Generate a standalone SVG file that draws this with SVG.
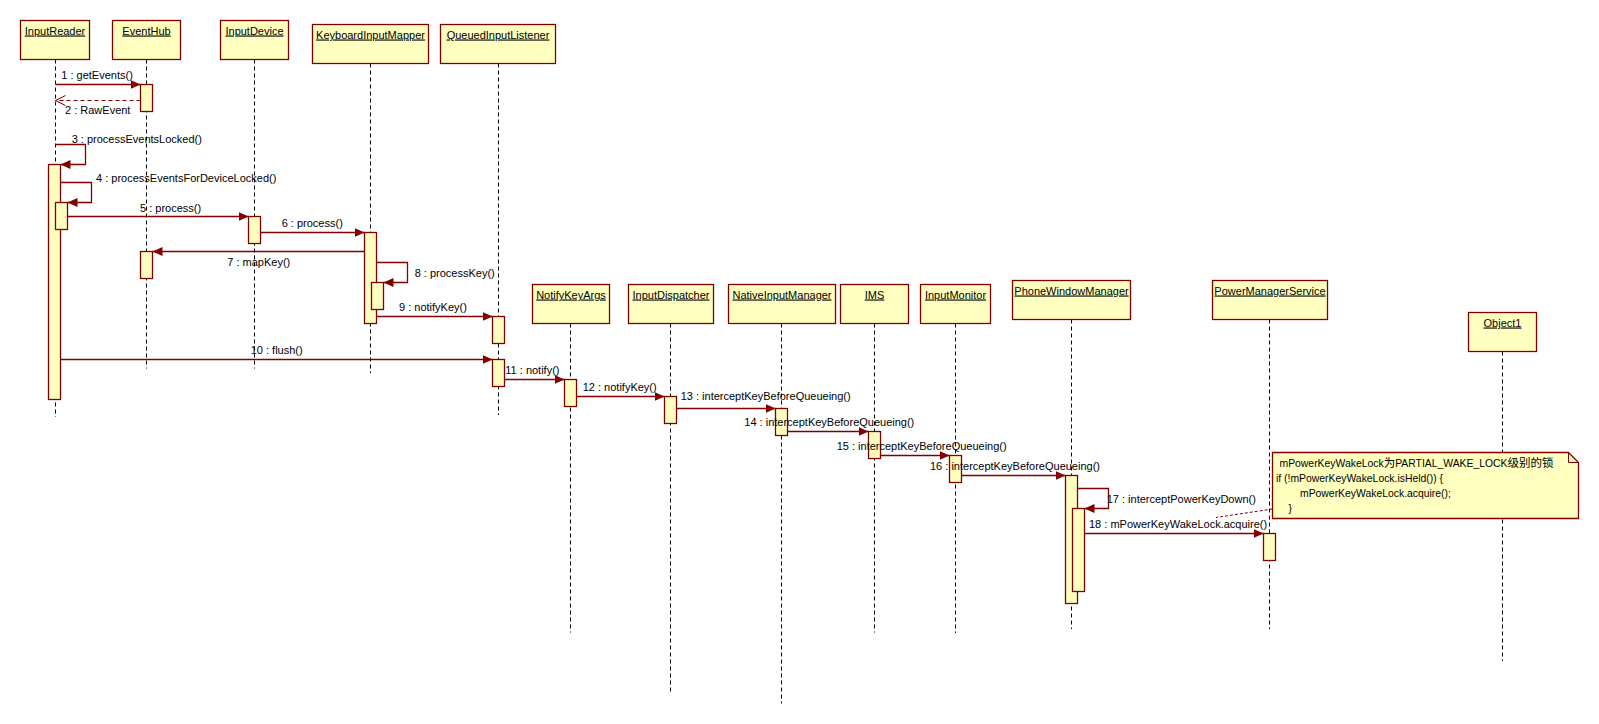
<svg xmlns="http://www.w3.org/2000/svg" width="1599" height="724" viewBox="0 0 1599 724">
<style>
.box{fill:#FFFFC0;stroke:#800000;stroke-width:1.3}
.act{fill:#FFFFC0;stroke:#800000;stroke-width:1.3}
.life{stroke:#000;stroke-width:1;stroke-dasharray:4 3;fill:none}
.msg{stroke:#800000;stroke-width:1.3;fill:none}
.ret{stroke:#800000;stroke-width:1;fill:none;stroke-dasharray:4 3}
.note{fill:#FFFFC0;stroke:#800000;stroke-width:1.3}
.nlink{stroke:#800000;stroke-width:1;fill:none;stroke-dasharray:3 2}
text{font-family:"Liberation Sans",Arial,"Noto Sans CJK SC",sans-serif;font-size:11px;fill:#000}
.hdr{text-anchor:middle;text-decoration:underline}
.nt{font-size:10.4px}
.cjk{font-size:11.5px}
</style>
<defs>
<marker id="fa" markerUnits="userSpaceOnUse" markerWidth="11" markerHeight="10" refX="10" refY="4.5" orient="auto">
<path d="M0,0 L10,4.5 L0,9 z" fill="#800000"/>
</marker>
<marker id="oa" markerUnits="userSpaceOnUse" markerWidth="11" markerHeight="12" refX="10" refY="5.5" orient="auto">
<path d="M0,0.5 L10,5.5 L0,10.5" fill="none" stroke="#800000" stroke-width="1"/>
</marker>
</defs>

<g id="lifelines">
<line class="life" x1="55.5" y1="59.5" x2="55.5" y2="417"/>
<line class="life" x1="146.5" y1="59.5" x2="146.5" y2="368.5"/>
<line class="life" x1="254.5" y1="59.5" x2="254.5" y2="368.5"/>
<line class="life" x1="370.5" y1="63.5" x2="370.5" y2="373"/>
<line class="life" x1="498.5" y1="63.5" x2="498.5" y2="415"/>
<line class="life" x1="570.5" y1="323.5" x2="570.5" y2="632.5"/>
<line class="life" x1="670.5" y1="323.5" x2="670.5" y2="692"/>
<line class="life" x1="781.5" y1="323.5" x2="781.5" y2="703.5"/>
<line class="life" x1="874.5" y1="323.5" x2="874.5" y2="632.5"/>
<line class="life" x1="955.5" y1="323.5" x2="955.5" y2="633"/>
<line class="life" x1="1071.5" y1="319.5" x2="1071.5" y2="629"/>
<line class="life" x1="1269.5" y1="319.5" x2="1269.5" y2="629"/>
<line class="life" x1="1502.5" y1="351.5" x2="1502.5" y2="661"/>
</g>

<g id="InputReader">
<rect class="box" x="20.5" y="20.5" width="69" height="39"/>
<text class="hdr" x="55" y="34.5">InputReader</text>
<rect class="act" x="48.5" y="164.5" width="12" height="235"/>
<rect class="act" x="55.5" y="202.5" width="12" height="27"/>
</g>
<g id="EventHub">
<rect class="box" x="112.5" y="20.5" width="68" height="39"/>
<text class="hdr" x="146.5" y="34.5">EventHub</text>
<rect class="act" x="140.5" y="84.5" width="12" height="27"/>
<rect class="act" x="140.5" y="251.5" width="12" height="27"/>
</g>
<g id="InputDevice">
<rect class="box" x="220.5" y="20.5" width="68" height="39"/>
<text class="hdr" x="254.5" y="34.5">InputDevice</text>
<rect class="act" x="248.5" y="216.5" width="12" height="27"/>
</g>
<g id="KeyboardInputMapper">
<rect class="box" x="312.5" y="24.5" width="116" height="39"/>
<text class="hdr" x="370.5" y="38.5">KeyboardInputMapper</text>
<rect class="act" x="364.5" y="232.5" width="12" height="91"/>
<rect class="act" x="371.5" y="282.5" width="12" height="27"/>
</g>
<g id="QueuedInputListener">
<rect class="box" x="440.5" y="24.5" width="115" height="39"/>
<text class="hdr" x="498" y="38.5">QueuedInputListener</text>
<rect class="act" x="492.5" y="316.5" width="12" height="27"/>
<rect class="act" x="492.5" y="359.5" width="12" height="27"/>
</g>
<g id="NotifyKeyArgs">
<rect class="box" x="532.5" y="284.5" width="77" height="39"/>
<text class="hdr" x="571" y="298.5">NotifyKeyArgs</text>
<rect class="act" x="564.5" y="379.5" width="12" height="27"/>
</g>
<g id="InputDispatcher">
<rect class="box" x="628.5" y="284.5" width="85" height="39"/>
<text class="hdr" x="671" y="298.5">InputDispatcher</text>
<rect class="act" x="664.5" y="396.5" width="12" height="27"/>
</g>
<g id="NativeInputManager">
<rect class="box" x="728.5" y="284.5" width="107" height="39"/>
<text class="hdr" x="782" y="298.5">NativeInputManager</text>
<rect class="act" x="775.5" y="408.5" width="12" height="27"/>
</g>
<g id="IMS">
<rect class="box" x="840.5" y="284.5" width="68" height="39"/>
<text class="hdr" x="874.5" y="298.5">IMS</text>
<rect class="act" x="868.5" y="431.5" width="12" height="27"/>
</g>
<g id="InputMonitor">
<rect class="box" x="920.5" y="284.5" width="70" height="39"/>
<text class="hdr" x="955.5" y="298.5">InputMonitor</text>
<rect class="act" x="949.5" y="455.5" width="12" height="27"/>
</g>
<g id="PhoneWindowManager">
<rect class="box" x="1012.5" y="280.5" width="118" height="39"/>
<text class="hdr" x="1071.5" y="294.5">PhoneWindowManager</text>
<rect class="act" x="1065.5" y="475.5" width="12" height="128"/>
<rect class="act" x="1072.5" y="508.5" width="12" height="83"/>
</g>
<g id="PowerManagerService">
<rect class="box" x="1212.5" y="280.5" width="115" height="39"/>
<text class="hdr" x="1270" y="294.5">PowerManagerService</text>
<rect class="act" x="1263.5" y="533.5" width="12" height="27"/>
</g>
<g id="Object1">
<rect class="box" x="1468.5" y="312.5" width="68" height="39"/>
<text class="hdr" x="1502.5" y="326.5">Object1</text>
</g>

<g id="note">
<polygon class="note" points="1272.5,452.5 1568.5,452.5 1578.5,462.5 1578.5,518.5 1272.5,518.5"/>
<polyline points="1568.5,452.5 1568.5,462.5 1578.5,462.5" fill="none" stroke="#800000" stroke-width="1"/>
<text class="nt" x="1279.5" y="466.5">mPowerKeyWakeLock<tspan class="cjk">为</tspan>PARTIAL_WAKE_LOCK<tspan class="cjk">级别的锁</tspan></text>
<text class="nt" x="1276" y="481.5">if (!mPowerKeyWakeLock.isHeld()) {</text>
<text class="nt" x="1300" y="496.5">mPowerKeyWakeLock.acquire();</text>
<text class="nt" x="1288.5" y="511.5">}</text>
</g>

<g id="connectors">
<line class="msg" x1="55.5" y1="84.5" x2="140.5" y2="84.5" marker-end="url(#fa)"/>
<line class="ret" x1="140.5" y1="100.5" x2="55.5" y2="100.5" marker-end="url(#oa)"/>
<polyline class="msg" points="55.5,144.5 85.5,144.5 85.5,164.5 60.5,164.5" marker-end="url(#fa)"/>
<polyline class="msg" points="60.5,182.5 91.5,182.5 91.5,202.5 67.5,202.5" marker-end="url(#fa)"/>
<line class="msg" x1="67.5" y1="216.5" x2="248.5" y2="216.5" marker-end="url(#fa)"/>
<line class="msg" x1="260.5" y1="232.5" x2="364.5" y2="232.5" marker-end="url(#fa)"/>
<line class="msg" x1="364.5" y1="251.5" x2="152.5" y2="251.5" marker-end="url(#fa)"/>
<polyline class="msg" points="376.5,262.5 407.5,262.5 407.5,282.5 383.5,282.5" marker-end="url(#fa)"/>
<line class="msg" x1="376.5" y1="316.5" x2="492.5" y2="316.5" marker-end="url(#fa)"/>
<line class="msg" x1="60.5" y1="359.5" x2="492.5" y2="359.5" marker-end="url(#fa)"/>
<line class="msg" x1="504.5" y1="379.5" x2="564.5" y2="379.5" marker-end="url(#fa)"/>
<line class="msg" x1="576.5" y1="396.5" x2="664.5" y2="396.5" marker-end="url(#fa)"/>
<line class="msg" x1="676.5" y1="408.5" x2="775.5" y2="408.5" marker-end="url(#fa)"/>
<line class="msg" x1="787.5" y1="431.5" x2="868.5" y2="431.5" marker-end="url(#fa)"/>
<line class="msg" x1="880.5" y1="455.5" x2="949.5" y2="455.5" marker-end="url(#fa)"/>
<line class="msg" x1="961.5" y1="475.5" x2="1065.5" y2="475.5" marker-end="url(#fa)"/>
<polyline class="msg" points="1077.5,488.5 1108.5,488.5 1108.5,508.5 1084.5,508.5" marker-end="url(#fa)"/>
<line class="msg" x1="1084.5" y1="533.5" x2="1263.5" y2="533.5" marker-end="url(#fa)"/>
<line class="nlink" x1="1272.5" y1="509" x2="1216" y2="517.5"/>
</g>

<g id="labels">
<text x="61.3" y="79">1 : getEvents()</text>
<text x="65" y="114">2 : RawEvent</text>
<text x="71.7" y="143">3 : processEventsLocked()</text>
<text x="96" y="182">4 : processEventsForDeviceLocked()</text>
<text x="140" y="211.5">5 : process()</text>
<text x="281.7" y="226.5">6 : process()</text>
<text x="227.3" y="266">7 : mapKey()</text>
<text x="414.7" y="277">8 : processKey()</text>
<text x="399" y="311">9 : notifyKey()</text>
<text x="250.7" y="354">10 : flush()</text>
<text x="505.3" y="373.5">11 : notify()</text>
<text x="582.7" y="390.5">12 : notifyKey()</text>
<text x="680.7" y="399.5">13 : interceptKeyBeforeQueueing()</text>
<text x="744.3" y="425.5">14 : interceptKeyBeforeQueueing()</text>
<text x="836.7" y="450">15 : interceptKeyBeforeQueueing()</text>
<text x="930" y="470">16 : interceptKeyBeforeQueueing()</text>
<text x="1106.7" y="502.5">17 : interceptPowerKeyDown()</text>
<text x="1089" y="527.5">18 : mPowerKeyWakeLock.acquire()</text>
</g>
</svg>
